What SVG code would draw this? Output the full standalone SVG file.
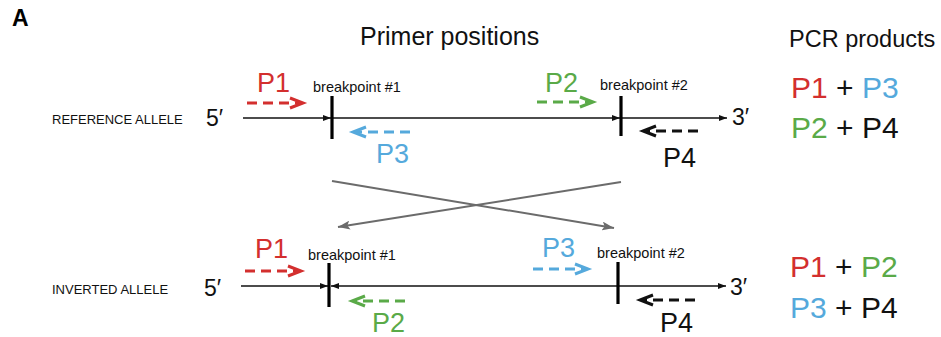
<svg xmlns="http://www.w3.org/2000/svg" width="941" height="337" viewBox="0 0 941 337">
  <style>
    text { font-family: "Liberation Sans", Arial, sans-serif; }
    .panel { font-weight: bold; font-size: 23px; fill: #000; }
    .head { font-size: 25px; fill: #111; }
    .head2 { font-size: 23.5px; fill: #111; }
    .allele { font-size: 13px; fill: #111; }
    .end { font-size: 23px; fill: #111; }
    .bp { font-size: 14.5px; fill: #111; }
    .pl { font-size: 27px; }
    .prod { font-size: 30px; }
    .red { fill: #d32f2e; }
    .green { fill: #5aaa48; }
    .blue { fill: #55a9dc; }
    .black { fill: #111; }
    .dna { stroke: #111; stroke-width: 1.6; fill: none; }
    .tick { stroke: #000; stroke-width: 3.2; }
    .primer { fill: none; stroke-width: 3; stroke-dasharray: 10 6; }
    .chev { fill: none; stroke-width: 3; stroke-linejoin: miter; }
    .cross { stroke: #6b6b6b; stroke-width: 2; fill: none; }
  </style>
  <defs>
    <marker id="dnaHead" viewBox="0 0 8 6" refX="8" refY="3" markerWidth="8" markerHeight="6" markerUnits="userSpaceOnUse" orient="auto">
      <path d="M0,0 L8,3 L0,6 Z" fill="#111"/>
    </marker>
    <marker id="crossHead" viewBox="0 0 12 9" refX="12" refY="4.5" markerWidth="12" markerHeight="9" markerUnits="userSpaceOnUse" orient="auto">
      <path d="M0,0 L12,4.5 L0,9 L2.5,4.5 Z" fill="#6b6b6b"/>
    </marker>
  </defs>

  <text class="panel" x="12" y="26">A</text>
  <text class="head" x="360" y="45">Primer positions</text>
  <text class="head2" x="789" y="47">PCR products</text>

  <!-- reference allele -->
  <g id="reference-allele">
    <text class="allele" x="52" y="124">REFERENCE ALLELE</text>
    <text class="end" x="206" y="126">5′</text>
    <text class="end" x="732" y="125">3′</text>
    <path class="dna" d="M243,118 H331" marker-end="url(#dnaHead)"/>
    <path class="dna" d="M333,118 H620" marker-end="url(#dnaHead)"/>
    <path class="dna" d="M622,118 H727" marker-end="url(#dnaHead)"/>
    <line class="tick" x1="332" y1="96" x2="332" y2="139"/>
    <line class="tick" x1="621" y1="96" x2="621" y2="136"/>
    <text class="bp" x="313" y="92">breakpoint #1</text>
    <text class="bp" x="600" y="90">breakpoint #2</text>
  </g>

  <g id="ref-P1">
    <text class="pl red" x="257" y="92">P1</text>
    <path class="primer" stroke="#d32f2e" d="M247,103 H301"/>
    <path class="chev" stroke="#d32f2e" d="M290,98 L303,103 L290,108"/>
  </g>
  <g id="ref-P2">
    <text class="pl green" x="545" y="92">P2</text>
    <path class="primer" stroke="#5aaa48" d="M537,102 H591"/>
    <path class="chev" stroke="#5aaa48" d="M580,97 L593,102 L580,107"/>
  </g>
  <g id="ref-P3">
    <text class="pl blue" x="376" y="163">P3</text>
    <path class="primer" stroke="#55a9dc" d="M410,132 H355"/>
    <path class="chev" stroke="#55a9dc" d="M366,127 L353,132 L366,137"/>
  </g>
  <g id="ref-P4">
    <text class="pl black" x="663" y="167">P4</text>
    <path class="primer" stroke="#111" d="M698,131 H645"/>
    <path class="chev" stroke="#111" d="M656,126 L643,131 L656,136"/>
  </g>

  <!-- inversion connectors -->
  <g id="connectors">
    <path class="cross" d="M332,181 L614,228" marker-end="url(#crossHead)"/>
    <path class="cross" d="M621,182 L338,227" marker-end="url(#crossHead)"/>
  </g>

  <!-- inverted allele -->
  <g id="inverted-allele">
    <text class="allele" x="52" y="294">INVERTED ALLELE</text>
    <text class="end" x="204" y="296">5′</text>
    <text class="end" x="730" y="295">3′</text>
    <path class="dna" d="M241,286 H328" marker-end="url(#dnaHead)"/>
    <path class="dna" d="M618,286 H331" marker-end="url(#dnaHead)"/>
    <path class="dna" d="M618,286 H726" marker-end="url(#dnaHead)"/>
    <line class="tick" x1="329" y1="263" x2="329" y2="307"/>
    <line class="tick" x1="618" y1="262" x2="618" y2="304"/>
    <text class="bp" x="308" y="260">breakpoint #1</text>
    <text class="bp" x="597" y="258">breakpoint #2</text>
  </g>

  <g id="inv-P1">
    <text class="pl red" x="255" y="258">P1</text>
    <path class="primer" stroke="#d32f2e" d="M245,271 H299"/>
    <path class="chev" stroke="#d32f2e" d="M288,266 L301,271 L288,276"/>
  </g>
  <g id="inv-P3">
    <text class="pl blue" x="542" y="257">P3</text>
    <path class="primer" stroke="#55a9dc" d="M533,269 H586"/>
    <path class="chev" stroke="#55a9dc" d="M575,264 L588,269 L575,274"/>
  </g>
  <g id="inv-P2">
    <text class="pl green" x="372" y="332">P2</text>
    <path class="primer" stroke="#5aaa48" d="M405,301 H354"/>
    <path class="chev" stroke="#5aaa48" d="M365,296 L352,301 L365,306"/>
  </g>
  <g id="inv-P4">
    <text class="pl black" x="660" y="332">P4</text>
    <path class="primer" stroke="#111" d="M695,300 H642"/>
    <path class="chev" stroke="#111" d="M653,295 L640,300 L653,305"/>
  </g>

  <!-- PCR products -->
  <g id="products-reference">
    <text class="prod" x="791" y="98"><tspan class="red">P1</tspan><tspan class="black"> + </tspan><tspan class="blue">P3</tspan></text>
    <text class="prod" x="791" y="138"><tspan class="green">P2</tspan><tspan class="black"> + P4</tspan></text>
  </g>
  <g id="products-inverted">
    <text class="prod" x="790" y="277"><tspan class="red">P1</tspan><tspan class="black"> + </tspan><tspan class="green">P2</tspan></text>
    <text class="prod" x="790" y="318"><tspan class="blue">P3</tspan><tspan class="black"> + P4</tspan></text>
  </g>
</svg>
